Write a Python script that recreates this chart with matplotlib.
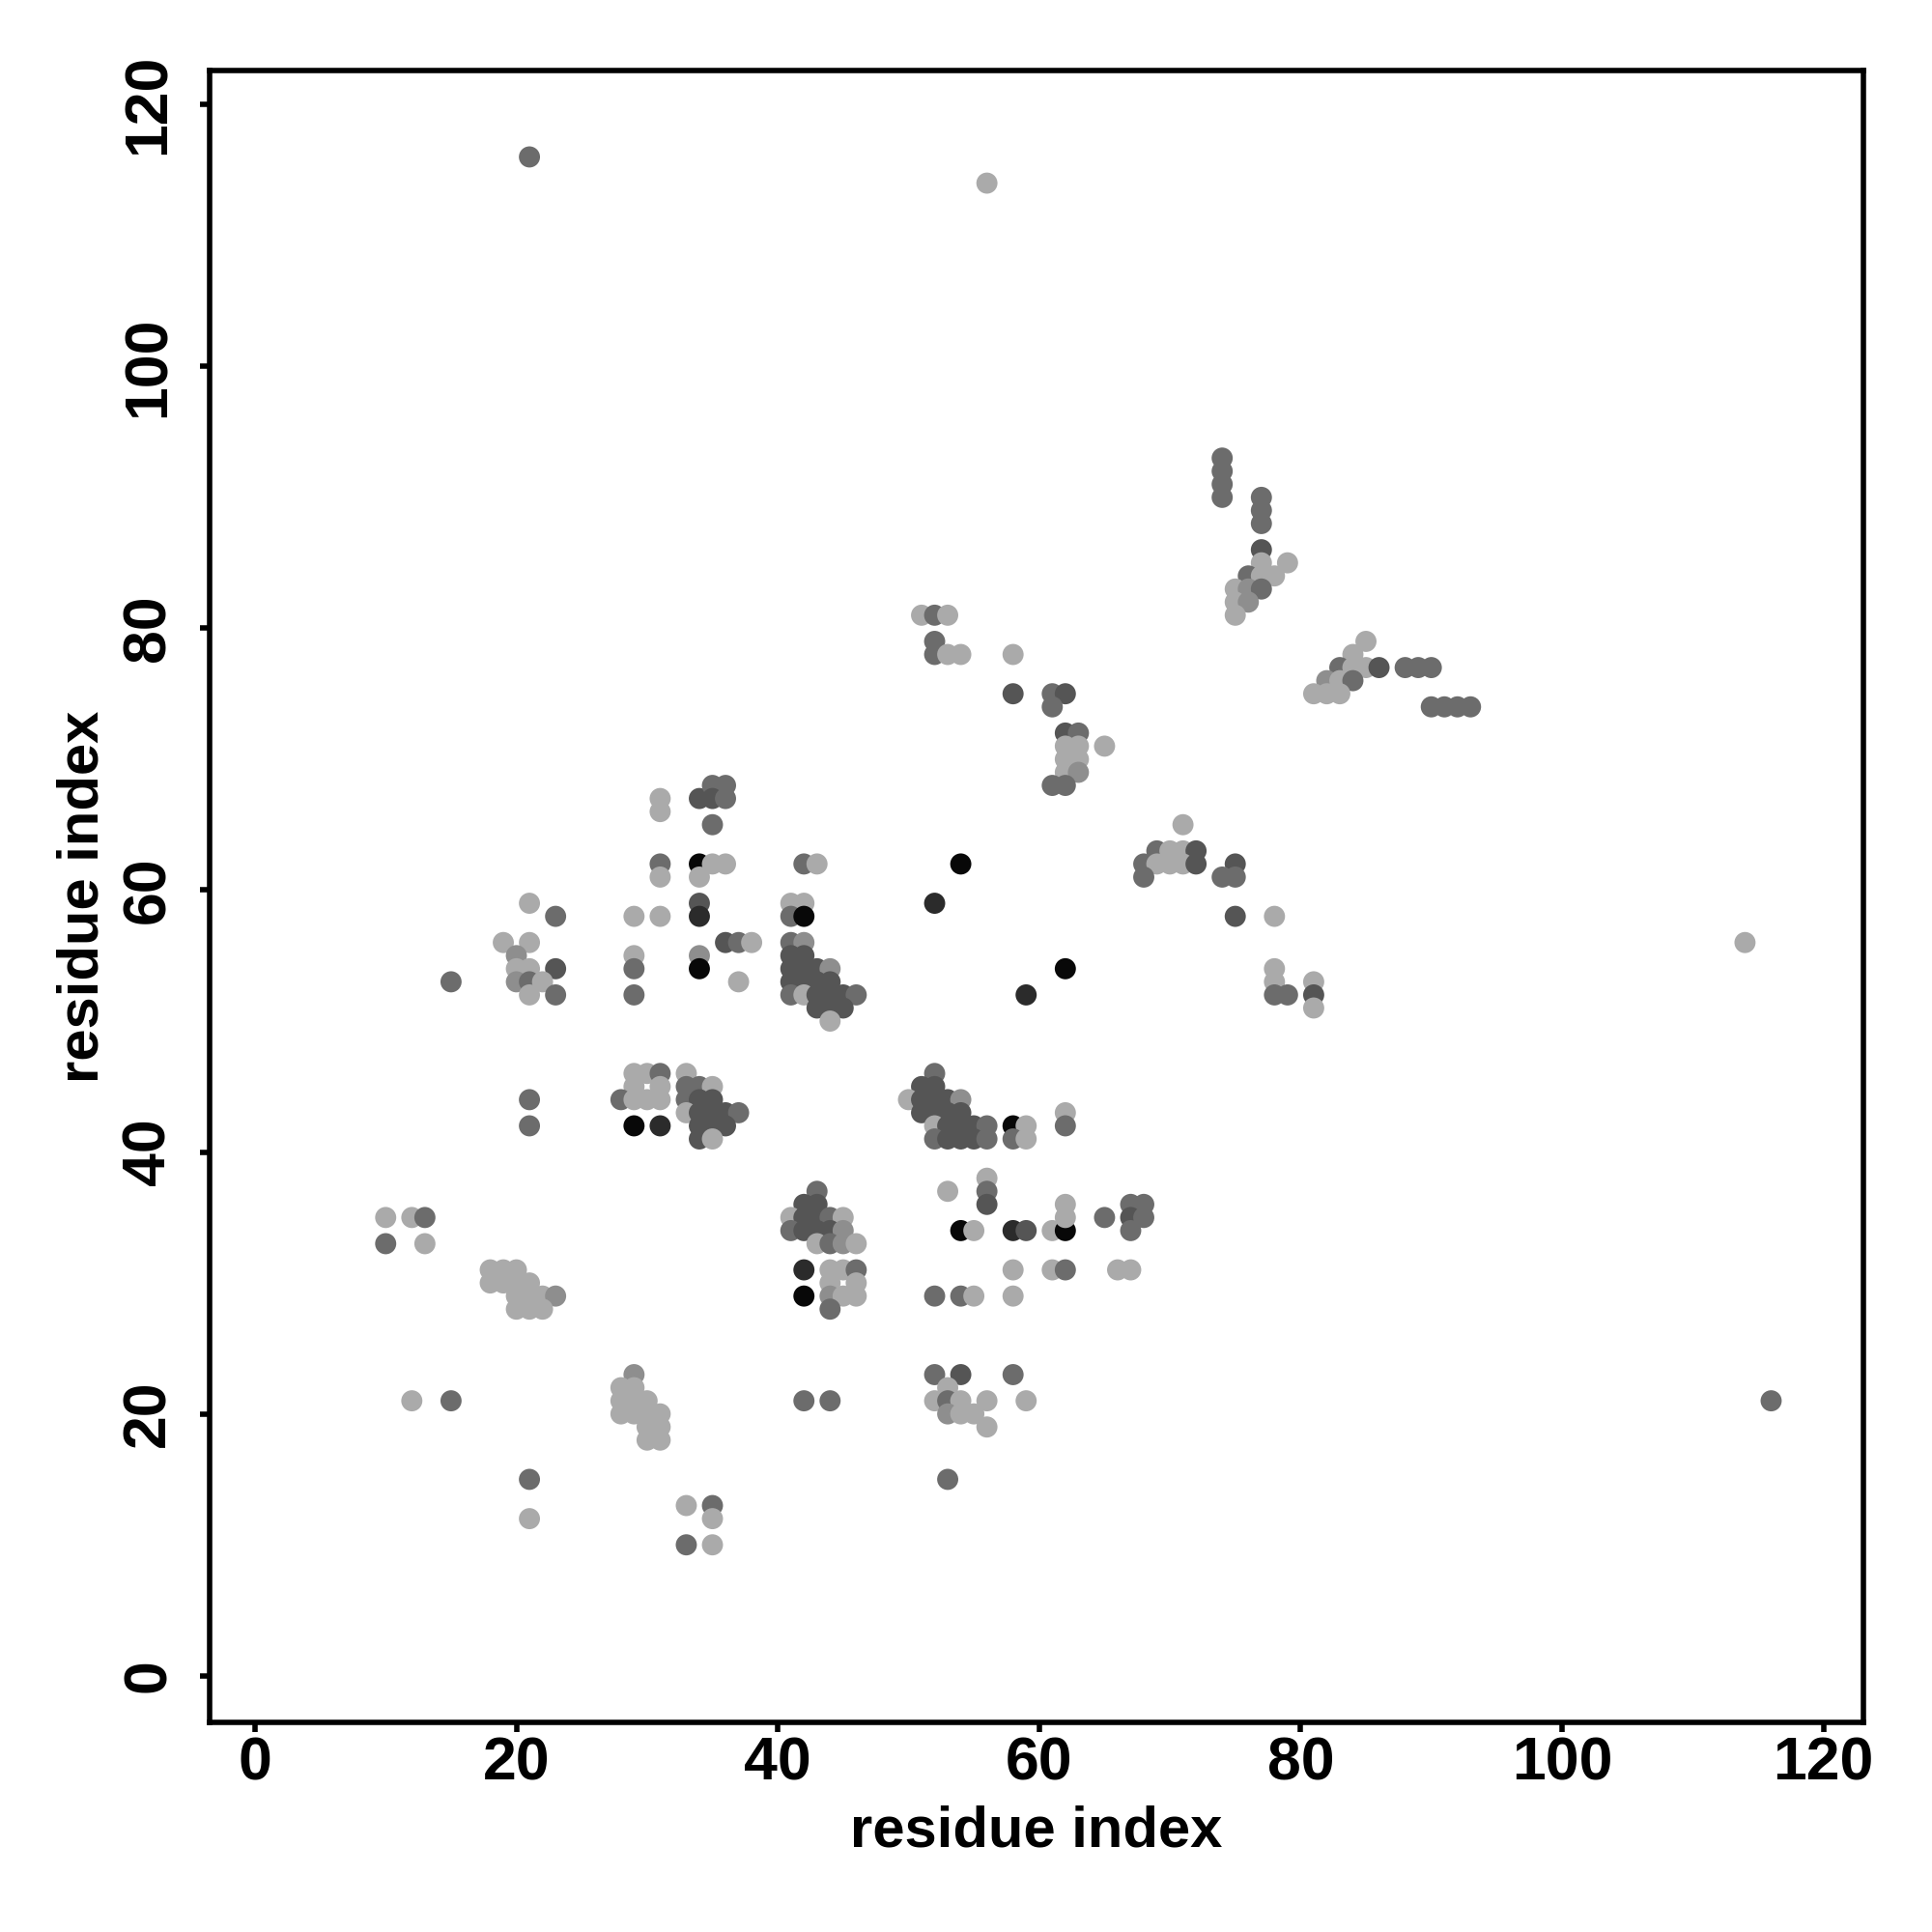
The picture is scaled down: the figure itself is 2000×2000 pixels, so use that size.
import matplotlib
matplotlib.use("Agg")
import matplotlib.pyplot as plt

# contact pairs (residue i, residue j, shade level 1=light .. 6=black)
pairs = [
    (31,67,1),(31,66,1),(34,67,4),(35,68,3),(36,68,3),(35,67,4),(36,67,3),(35,65,3),
    (51,81,1),(52,81,3),(53,81,1),(52,79,3),(52,78,3),(53,78,1),(54,78,1),(58,78,1),
    (58,75,4),(61,75,3),(62,75,4),(61,74,3),(62,72,4),(63,72,3),(65,71,1),(62,71,1),
    (63,71,1),(62,70,1),(63,70,1),(62,69,1),(63,69,2),(61,68,3),(62,68,3),
    (74,93,3),(74,92,3),(74,91,3),(74,90,3),(77,90,3),(77,89,3),(77,88,3),(77,86,4),
    (77,85,1),(79,85,1),(76,84,3),(77,84,1),(78,84,1),(75,83,1),(76,83,2),(77,83,3),
    (75,82,1),(76,82,2),(75,81,1),(85,79,1),(84,78,1),(83,77,3),(84,77,1),(85,77,1),
    (86,77,4),(88,77,3),(89,77,3),(90,77,3),(82,76,2),(83,76,1),(84,76,3),(81,75,1),
    (82,75,1),(83,75,1),(90,74,3),(91,74,3),(92,74,3),(93,74,3),(71,65,1),
    (69,63,3),(70,63,1),(71,63,1),(72,63,4),(68,62,3),(69,62,1),(70,62,1),(71,62,1),
    (72,62,4),(68,61,3),(75,62,4),(74,61,3),(75,61,3),(75,58,4),(78,58,1),
    (78,54,1),(78,53,1),(78,52,3),(79,52,3),(81,53,1),(81,52,4),(81,51,1),
    (31,62,3),(31,61,1),(34,62,6),(35,62,1),(36,62,1),(34,61,1),(21,59,1),(23,58,3),
    (29,58,1),(31,58,1),(34,59,4),(34,58,5),(36,56,4),(37,56,3),(38,56,1),(19,56,1),
    (21,56,1),(20,55,2),(20,54,1),(21,54,1),(23,54,4),(15,53,3),(20,53,2),(21,53,3),
    (22,53,1),(21,52,1),(23,52,3),(29,55,1),(29,54,3),(29,52,3),(34,55,2),(34,54,6),
    (37,53,1),
    (29,46,1),(30,46,1),(31,46,3),(29,45,1),(31,45,1),(28,44,3),(29,44,1),(30,44,1),
    (31,44,1),(33,46,1),(33,45,3),(34,45,3),(35,45,1),(33,44,3),(34,44,4),(35,44,4),
    (33,43,1),(34,43,4),(35,43,4),(36,43,4),(37,43,3),(34,42,4),(35,42,4),(36,42,4),
    (34,41,4),(35,41,1),(21,44,3),(21,42,3),(29,42,6),(31,42,5),
    (42,62,3),(43,62,1),(54,62,6),(41,59,1),(42,59,1),(41,58,3),(42,58,6),(52,59,5),
    (41,56,3),(42,56,2),(41,55,4),(42,55,4),(41,54,4),(42,54,4),(43,54,4),(44,54,2),
    (41,53,4),(42,53,4),(43,53,4),(44,53,4),(41,52,3),(42,52,1),(43,52,4),(44,52,4),
    (45,52,4),(46,52,3),(43,51,4),(44,51,4),(45,51,4),(44,50,1),(62,54,6),(59,52,5),
    (52,46,3),(51,45,4),(52,45,4),(50,44,1),(51,44,4),(52,44,4),(53,44,4),(54,44,2),
    (51,43,4),(52,43,4),(53,43,4),(54,43,4),(52,42,1),(53,42,4),(54,42,4),(55,42,4),
    (56,42,3),(52,41,3),(53,41,4),(54,41,4),(55,41,4),(56,41,3),(58,42,6),(59,42,1),
    (58,41,3),(59,41,1),(62,43,1),(62,42,3),
    (56,38,1),(56,37,3),(56,36,4),(53,37,1),(43,37,3),(42,36,4),(43,36,4),(62,36,1),
    (10,35,1),(12,35,1),(13,35,3),(10,33,3),(13,33,1),(18,31,1),(19,31,1),(20,31,1),
    (18,30,1),(19,30,1),(20,30,1),(21,30,1),(20,29,1),(21,29,1),(22,29,1),(23,29,2),
    (20,28,1),(21,28,1),(22,28,1),(29,23,2),(28,22,1),(29,22,1),(28,21,1),(29,21,1),
    (30,21,1),(28,20,1),(29,20,1),(30,20,1),(31,20,1),(30,19,1),(31,19,1),(30,18,1),
    (31,18,1),(12,21,1),(15,21,3),(21,15,3),(21,12,1),(33,13,1),(35,13,3),(35,12,1),
    (33,10,3),(35,10,1),
    (41,35,1),(42,35,4),(43,35,4),(44,35,3),(45,35,1),(41,34,3),(42,34,4),(43,34,4),
    (44,34,4),(45,34,2),(43,33,1),(44,33,3),(45,33,2),(46,33,1),(42,31,5),(44,31,1),
    (45,31,1),(46,31,3),(44,30,1),(46,30,1),(42,29,6),(44,29,2),(45,29,1),(46,29,1),
    (44,28,3),
    (54,34,6),(55,34,1),(58,34,5),(59,34,4),(61,34,1),(62,34,6),(62,35,1),(65,35,3),
    (67,36,3),(68,36,3),(67,35,4),(68,35,3),(67,34,3),(58,31,1),(61,31,1),(62,31,3),
    (66,31,1),(67,31,1),
    (52,29,3),(54,29,3),(55,29,1),(58,29,1),(52,23,3),(54,23,4),(58,23,3),(53,22,1),
    (52,21,1),(53,21,3),(54,21,1),(56,21,1),(59,21,1),(53,20,2),(54,20,1),(55,20,1),
    (56,19,1),(53,15,3),(42,21,3),(44,21,3),
    (21,116,3),(56,114,1),(114,56,1),(116,21,3),
]

res_i = [p[0] for p in pairs]
res_j = [p[1] for p in pairs]
shade = [p[2] for p in pairs]

gray_levels = {1: "#aaaaaa", 2: "#8e8e8e", 3: "#6c6c6c", 4: "#555555",
               5: "#2b2b2b", 6: "#080808"}
ticks = [0, 20, 40, 60, 80, 100, 120]
tick_labels = [str(t) for t in ticks]

plt.rcParams['font.family'] = ['Liberation Sans', 'DejaVu Sans']

fig = plt.figure(figsize=(10, 10), dpi=200)
ax = fig.add_axes([0.1085, 0.1085, 0.856, 0.855])

colors = [gray_levels[s] for s in shade]
ax.scatter(res_i, res_j, s=62, c=colors, edgecolors='none', zorder=3)

ax.set_xlim(-3.47, 123.06)
ax.set_ylim(-3.56, 122.6)
ax.set_xticks(ticks)
ax.set_xticklabels(tick_labels)
ax.set_yticks(ticks)
ax.set_yticklabels(tick_labels)

for sp in ax.spines.values():
    sp.set_linewidth(2.0)
    sp.set_color('black')

FS = 22.5
ax.tick_params(axis='both', direction='out', length=3.5, width=2,
               labelsize=FS)
ax.tick_params(axis='x', pad=1.5)
ax.tick_params(axis='y', pad=8.5, labelrotation=90)
for lab in ax.get_xticklabels() + ax.get_yticklabels():
    lab.set_fontweight('bold')
for lab in ax.get_yticklabels():
    lab.set_va('center')

ax.set_xlabel('residue index', fontsize=21.5, fontweight='bold')
ax.set_ylabel('residue index', fontsize=21.5, fontweight='bold')
ax.xaxis.set_label_coords(0.5, -0.0749)
ax.xaxis.label.set_va('baseline')
ax.yaxis.set_label_coords(-0.0672, 0.5)
ax.yaxis.label.set_va('baseline')

fig.savefig('out.png', dpi=200, facecolor='white')
